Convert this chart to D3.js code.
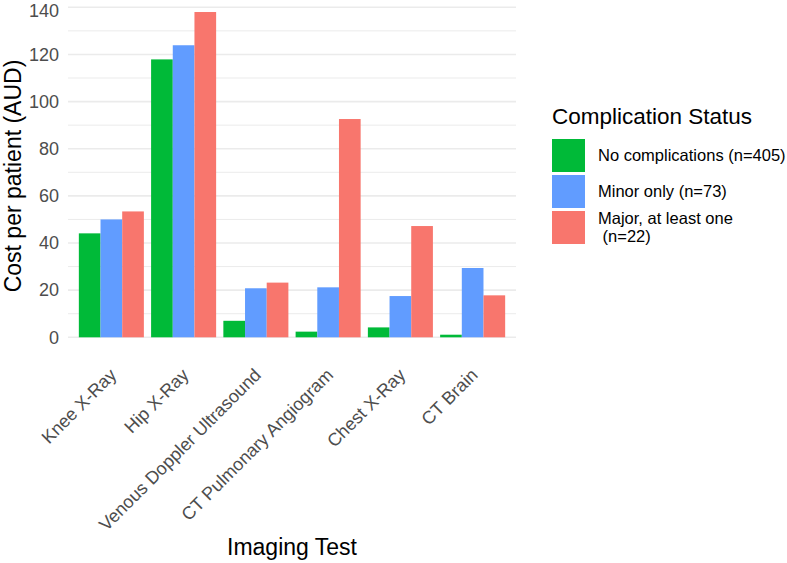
<!DOCTYPE html>
<html>
<head>
<meta charset="utf-8">
<script src="https://cdn.jsdelivr.net/npm/d3@7"></script>
<style>
  body { margin: 0; background: #fff; }
  svg text { font-family: "Liberation Sans", Arial, sans-serif; }
</style>
</head>
<body>
<div id="chart"></div>
<script>
// imaging tests on the x axis
var tests = ["Knee X-Ray", "Hip X-Ray", "Venous Doppler Ultrasound", "CT Pulmonary Angiogram", "Chest X-Ray", "CT Brain"];
var groups = ["No complications (n=405)", "Minor only (n=73)", "Major, at least one\n (n=22)"];
var colours = ["#00BA38", "#619CFF", "#F8766D"];

// cost per patient (AUD), one array per complication group
var noComp = [44.1, 117.9, 7.0, 2.4, 4.2, 1.1];
var minorOnly = [50.0, 123.9, 20.8, 21.2, 17.5, 29.4];
var majorOne = [53.4, 138.0, 23.2, 92.6, 47.2, 17.8];
var yTicks = [0, 20, 40, 60, 80, 100, 120, 140];
var yMinor = [10, 30, 50, 70, 90, 110, 130];

var series = [noComp, minorOnly, majorOne];

var W = 787, H = 563;
var panel = {left: 68, right: 516, top: -4, bottom: 354};

var svg = d3.select("#chart").append("svg")
    .attr("width", W).attr("height", H);

// ggplot style discrete axis: 0.6 expansion each side
var step = (panel.right - panel.left) / (tests.length + 0.2);
var x0 = d3.scaleBand()
    .domain(tests)
    .range([panel.left + 0.1 * step, panel.right - 0.1 * step])
    .paddingInner(0.1).paddingOuter(0.05);
var x1 = d3.scaleBand()
    .domain(d3.range(groups.length))
    .range([0, x0.bandwidth()]);

var y = d3.scaleLinear().domain([0, 140]).range([337.3, 7.3]);

// grid lines
svg.append("g").selectAll("line.minor")
    .data(yMinor).enter().append("line")
    .attr("x1", panel.left).attr("x2", panel.right)
    .attr("y1", function (d) { return y(d); })
    .attr("y2", function (d) { return y(d); })
    .attr("stroke", "#EBEBEB").attr("stroke-width", 1);
svg.append("g").selectAll("line.major")
    .data(yTicks).enter().append("line")
    .attr("x1", panel.left).attr("x2", panel.right)
    .attr("y1", function (d) { return y(d); })
    .attr("y2", function (d) { return y(d); })
    .attr("stroke", "#EBEBEB").attr("stroke-width", 1.6);

// bars
var grp = svg.append("g").selectAll("g")
    .data(tests).enter().append("g")
    .attr("transform", function (d) { return "translate(" + x0(d) + ",0)"; });

grp.selectAll("rect")
    .data(function (d, i) {
        return series.map(function (s, k) { return {k: k, v: s[i]}; });
    })
    .enter().append("rect")
    .attr("x", function (d) { return x1(d.k); })
    .attr("width", x1.bandwidth())
    .attr("y", function (d) { return y(d.v); })
    .attr("height", function (d) { return y(0) - y(d.v); })
    .attr("fill", function (d) { return colours[d.k]; });

// y axis labels
var yAxis = svg.append("g")
    .attr("transform", "translate(" + (panel.left - 3) + ",0)")
    .call(d3.axisLeft(y).tickValues(yTicks).tickSize(0).tickPadding(6));
yAxis.select(".domain").remove();
yAxis.selectAll("text")
    .attr("font-size", 18)
    .attr("fill", "#4D4D4D");
// keep the top label inside the picture
yAxis.selectAll("text").filter(function (d) { return d === 140; })
    .attr("dy", "0.5em");

// x axis labels, rotated 45
var xAxis = svg.append("g")
    .attr("transform", "translate(0,367)")
    .call(d3.axisBottom(x0).tickSize(0).tickPadding(0));
xAxis.select(".domain").remove();
xAxis.selectAll("text")
    .attr("font-size", 18)
    .attr("fill", "#4D4D4D")
    .attr("text-anchor", "end")
    .attr("y", 0)
    .attr("dy", "0.72em")
    .attr("transform", "translate(-3,0) rotate(-45)");

// axis titles
svg.append("text")
    .attr("x", 292).attr("y", 555)
    .attr("text-anchor", "middle")
    .attr("font-size", 23)
    .attr("fill", "#000")
    .text("Imaging Test");

svg.append("text")
    .attr("transform", "translate(21,176) rotate(-90)")
    .attr("text-anchor", "middle")
    .attr("font-size", 23)
    .attr("fill", "#000")
    .text("Cost per patient (AUD)");

// legend
var leg = svg.append("g").attr("transform", "translate(552,0)");
leg.append("text")
    .attr("x", 0).attr("y", 124)
    .attr("font-size", 22.5)
    .attr("fill", "#000")
    .text("Complication Status");

var items = leg.selectAll("g.item")
    .data(groups).enter().append("g")
    .attr("transform", function (d, i) { return "translate(0," + (139 + i * 36) + ")"; });
items.append("rect")
    .attr("width", 33).attr("height", 33)
    .attr("fill", function (d, i) { return colours[i]; });
items.append("text")
    .attr("x", 46)
    .attr("font-size", 16.5)
    .attr("fill", "#000")
    .each(function (d) {
        var lines = d.split("\n");
        var t = d3.select(this);
        var y0 = lines.length > 1 ? 13 : 22;
        lines.forEach(function (ln, j) {
            t.append("tspan")
                .attr("x", 46)
                .attr("y", y0 + j * 18)
                .attr("xml:space", "preserve")
                .text(ln);
        });
    });
</script>
</body>
</html>
